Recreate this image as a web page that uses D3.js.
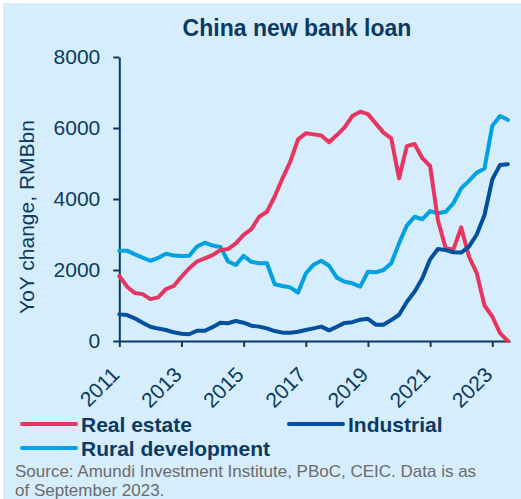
<!DOCTYPE html>
<html>
<head>
<meta charset="utf-8">
<script src="https://cdn.jsdelivr.net/npm/d3@7"></script>
<style>
  html, body { margin: 0; padding: 0; background: #ffffff; }
  svg { display: block; font-family: "Liberation Sans", Arial, sans-serif; }
</style>
</head>
<body>
<svg id="chart" width="521" height="499"></svg>
<script>
// ---- data (quarterly, 2011 Q1 .. 2023 Q3) ----
const startYear = 2011;
const stepYears = 0.25;
const realEstate = [1830,1530,1350,1320,1180,1230,1460,1550,1810,2050,2240,2330,2420,2560,2590,2750,2990,3150,3500,3640,4070,4580,5050,5680,5850,5820,5790,5600,5800,6020,6340,6460,6390,6130,5870,5710,4580,5490,5550,5150,4930,3410,2610,2580,3200,2380,1910,1000,690,220,0];
const industrial = [750,730,640,515,400,350,310,245,205,190,290,290,390,515,500,565,515,430,405,355,280,235,235,260,310,355,405,300,400,510,530,600,625,460,460,590,740,1100,1390,1765,2300,2590,2560,2500,2490,2660,3000,3550,4550,4960,4980];
const rural = [2545,2545,2440,2350,2260,2340,2460,2410,2395,2400,2660,2770,2690,2650,2240,2140,2400,2230,2190,2190,1600,1550,1510,1360,1900,2150,2260,2120,1785,1670,1625,1530,1950,1935,2000,2190,2750,3250,3500,3430,3660,3600,3640,3880,4300,4510,4740,4860,6060,6340,6230];
const xTicks = [2011,2013,2015,2017,2019,2021,2023];
const yTicks = [0,2000,4000,6000,8000];
const seriesNames = ["Real estate","Industrial","Rural development"];

const colors = { real: "#e8355f", ind: "#00509e", rural: "#00a1e1", navy: "#0a3a63", bg: "#d5edfc" };

const svg = d3.select("#chart");
const W = 521, H = 499;

// panel background
svg.append("rect").attr("x",3).attr("y",3).attr("width",W-3).attr("height",H-3).attr("fill",colors.bg);

const x = d3.scaleLinear().domain([2011, 2023.57]).range([119.3, 510]);
const y = d3.scaleLinear().domain([0, 8000]).range([341, 57]);

// title
svg.append("text").attr("x",297).attr("y",36).attr("text-anchor","middle")
  .attr("font-size",23).attr("font-weight","bold").attr("fill",colors.navy)
  .text("China new bank loan");

// y axis title
svg.append("text").attr("transform","translate(34,217) rotate(-90)").attr("text-anchor","middle")
  .attr("font-size",21).attr("fill",colors.navy).text("YoY change, RMBbn");

// y axis
const yAxis = svg.append("g").attr("transform","translate(119.3,0)")
  .call(d3.axisLeft(y).tickValues(yTicks).tickSize(6).tickSizeOuter(0).tickPadding(13).tickFormat(d3.format("d")));
yAxis.select(".domain").attr("stroke",colors.navy).attr("stroke-width",2);
yAxis.selectAll(".tick line").attr("stroke",colors.navy).attr("stroke-width",2);
yAxis.selectAll(".tick text").attr("font-size",21).attr("fill",colors.navy).attr("font-family","Liberation Sans, Arial, sans-serif");

// x axis
const xAxis = svg.append("g").attr("transform","translate(0,341)")
  .call(d3.axisBottom(x).tickValues(xTicks).tickSize(6).tickSizeOuter(0).tickFormat(d3.format("d")));
xAxis.select(".domain").attr("stroke",colors.navy).attr("stroke-width",2);
xAxis.selectAll(".tick line").attr("stroke",colors.navy).attr("stroke-width",2);
xAxis.selectAll(".tick text").attr("font-size",21).attr("fill",colors.navy)
  .attr("font-family","Liberation Sans, Arial, sans-serif")
  .attr("text-anchor","end").attr("x",0).attr("y",0).attr("dy",0)
  .attr("transform","translate(1,35) rotate(-45)");

// lines
const line = d3.line().x((d,i) => x(startYear + i*stepYears)).y(d => y(d)).curve(d3.curveLinear);
const series = [
  { vals: rural, color: colors.rural },
  { vals: realEstate, color: colors.real },
  { vals: industrial, color: colors.ind }
];
series.forEach(s => {
  svg.append("path").datum(s.vals).attr("d", line).attr("fill","none")
    .attr("stroke", s.color).attr("stroke-width",4).attr("stroke-linejoin","round").attr("stroke-linecap","round");
});

// legend
const legendItems = [
  { name: seriesNames[0], color: colors.real, x: 22, y: 424 },
  { name: seriesNames[1], color: colors.ind, x: 289, y: 424 },
  { name: seriesNames[2], color: colors.rural, x: 22, y: 448 }
];
legendItems.forEach(l => {
  svg.append("line").attr("x1",l.x).attr("x2",l.x+54).attr("y1",l.y).attr("y2",l.y)
    .attr("stroke",l.color).attr("stroke-width",4).attr("stroke-linecap","round");
  svg.append("text").attr("x",l.x+59).attr("y",l.y+7.5).attr("font-size",21).attr("font-weight","bold")
    .attr("fill",colors.navy).text(l.name);
});

// source
svg.append("text").attr("x",15).attr("y",477).attr("font-size",17).attr("fill","#6b6b6b")
  .text("Source: Amundi Investment Institute, PBoC, CEIC. Data is as");
svg.append("text").attr("x",15).attr("y",496).attr("font-size",17).attr("fill","#6b6b6b")
  .text("of September 2023.");
</script>
</body>
</html>
